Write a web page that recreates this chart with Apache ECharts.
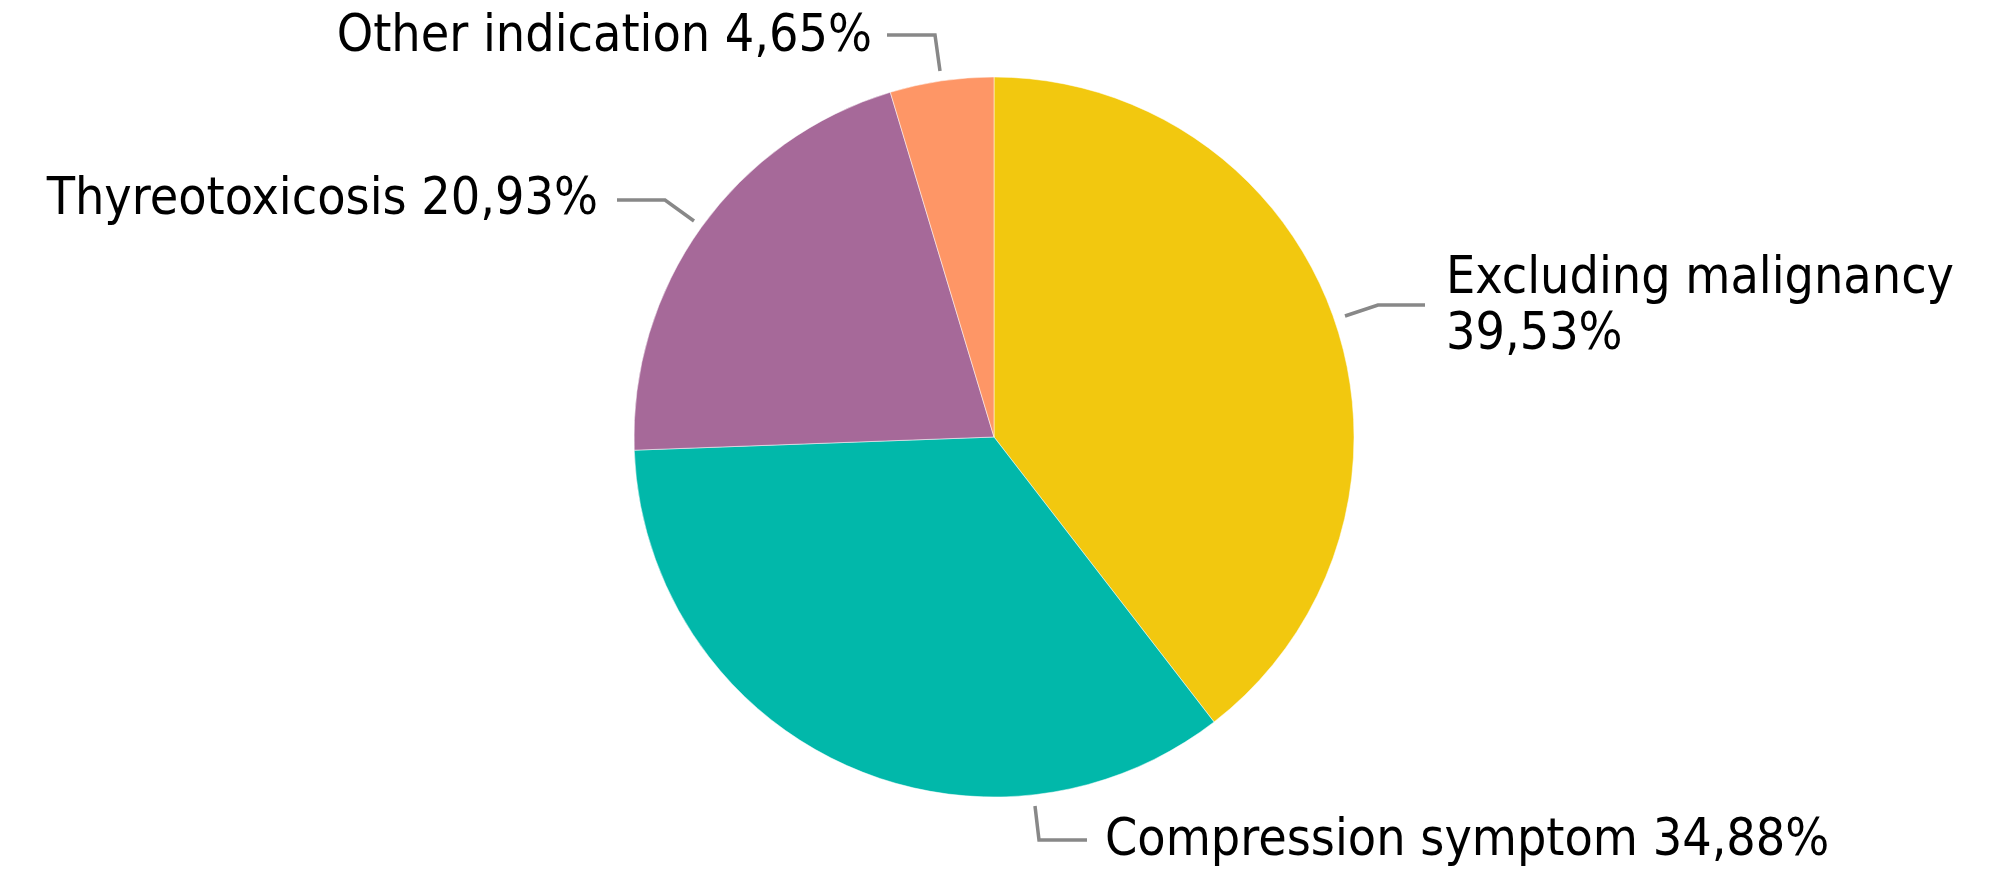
<!DOCTYPE html>
<html>
<head>
<meta charset="utf-8">
<script src="https://cdn.jsdelivr.net/npm/echarts@6/dist/echarts.min.js"></script>
<style>
html,body{margin:0;padding:0;background:#fff;}
#chart{width:2012px;height:880px;}
</style>
</head>
<body>
<div id="chart"></div>
<script>
const categories = ['Excluding malignancy', 'Compression symptom', 'Thyreotoxicosis', 'Other indication'];
const values = [39.53, 34.88, 20.93, 4.65];
const colors = ['#F2C80F', '#01B8AA', '#A66999', '#FE9666'];

// label placement (layout only)
const labelPos = [
  { x: 1446, y: 308, align: 'left', line: [[1345, 316], [1378, 305], [1425, 305]] },
  { x: 1105, y: 842, align: 'left', line: [[1035, 806], [1039, 840], [1087, 840]] },
  { x: 598, y: 201, align: 'right', line: [[694, 221], [665, 200], [617, 200]] },
  { x: 872, y: 38, align: 'right', line: [[940, 71], [935, 35], [887, 35]] }
];

const fmt = v => v.toFixed(2).replace('.', ',') + '%';

const chart = echarts.init(document.getElementById('chart'));
chart.setOption({
  animation: false,
  series: [{
    type: 'pie',
    center: [994, 437],
    radius: 360,
    startAngle: 90,
    clockwise: true,
    data: categories.map((c, i) => ({ name: c, value: values[i], itemStyle: { color: colors[i] } })),
    itemStyle: { borderColor: '#fff', borderWidth: 0.5 },
    label: {
      show: true,
      formatter: p => p.dataIndex === 0 ? p.name + '\n' + fmt(p.value) : p.name + ' ' + fmt(p.value),
      fontFamily: '"Liberation Sans Narrow", "DejaVu Sans Condensed", "Roboto", sans-serif',
      fontSize: 51.5,
      lineHeight: 56,
      color: '#000'
    },
    labelLine: { show: true, lineStyle: { color: '#888888', width: 3.5 } },
    labelLayout: function (params) {
      const L = labelPos[params.dataIndex];
      return {
        x: L.x, y: L.y, align: L.align, verticalAlign: 'middle',
        labelLinePoints: L.line
      };
    }
  }]
});
</script>
</body>
</html>
